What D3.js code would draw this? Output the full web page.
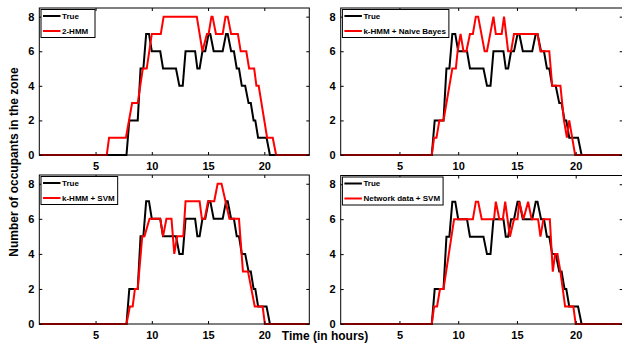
<!DOCTYPE html>
<html>
<head>
<meta charset="utf-8">
<script src="https://cdn.jsdelivr.net/npm/d3@7"></script>
<style>
  body { margin: 0; background: #fff; }
  svg { display: block; font-family: "Liberation Sans", Arial, Helvetica, sans-serif; }
  .tick-label { font-size: 11px; font-weight: bold; fill: #000; }
  .legend-text { font-size: 8px; font-weight: bold; fill: #000; }
  .axis-title { font-size: 12px; font-weight: bold; fill: #000; }
</style>
</head>
<body>
<svg width="622" height="347"></svg>
<script>
const trueTimes = [0, 7.75, 8.0, 8.75, 9.0, 9.25, 9.5, 9.75, 10.0, 10.75, 11.0, 12.15, 12.45, 12.75, 13.0, 13.85, 14.05, 14.25, 14.5, 14.75, 15.05, 15.2, 15.5, 16.3, 16.6, 16.75, 17.05, 17.3, 17.55, 17.75, 18.0, 18.3, 18.6, 18.8, 19.05, 19.2, 19.45, 20.2, 20.5, 24];
const trueValues = [0, 0, 2, 2, 5, 5, 7, 7, 6, 6, 5, 5, 4, 4, 6, 6, 5, 5, 6, 6, 7, 7, 6, 6, 7, 7, 6, 6, 5, 5, 4, 4, 3, 3, 2, 2, 1, 1, 0, 0];

// 2-HMM estimate
const hmmTimes = [0, 6.0, 6.2, 7.7, 8.25, 8.75, 9.2, 9.55, 10.0, 10.8, 11.05, 14.0, 14.5, 14.9, 15.05, 15.3, 15.4, 15.7, 16.3, 16.55, 16.75, 17.05, 17.65, 17.9, 18.4, 18.65, 19.1, 19.3, 19.5, 20.25, 20.75, 21.05, 24];
const hmmValues = [0, 0, 1, 1, 3, 3, 5, 5, 7, 7, 8, 8, 6, 7, 7, 8, 8, 7, 7, 8, 8, 7, 7, 6, 6, 5, 5, 4, 4, 1, 1, 0, 0];

// k-HMM + Naive Bayes estimate
const nbTimes = [0, 7.75, 7.95, 8.15, 8.4, 8.75, 9.5, 9.8, 9.95, 10.2, 10.45, 10.7, 11.0, 11.25, 11.5, 11.7, 12.25, 12.45, 13.0, 13.2, 13.7, 13.9, 14.25, 14.5, 14.75, 16.75, 17.0, 17.75, 18.0, 18.7, 19.0, 19.25, 19.45, 19.95, 24];
const nbValues = [0, 0, 1, 1, 2, 2, 5, 5, 6, 7, 6, 6, 7, 7, 8, 8, 6, 6, 8, 7, 7, 8, 6, 6, 7, 7, 6, 6, 4, 4, 2, 1, 2, 0, 0];

// k-HMM + SVM estimate
const svmTimes = [0, 7.75, 8.05, 8.3, 8.5, 8.75, 9.15, 9.35, 9.8, 10.75, 11.0, 11.3, 11.75, 12.0, 12.25, 12.8, 13.0, 14.25, 14.45, 14.7, 15.0, 15.55, 15.85, 16.2, 16.9, 17.75, 18.1, 18.55, 19.15, 19.85, 20.05, 24];
const svmValues = [0, 0, 1, 1, 2, 2, 5, 5, 6, 6, 5, 6, 6, 4, 5, 5, 7, 7, 6, 6, 7, 7, 8, 8, 6, 6, 3, 3, 1, 1, 0, 0];

// network data + SVM estimate
const netTimes = [0, 7.75, 7.95, 8.2, 8.45, 8.75, 9.65, 11.25, 11.5, 11.7, 12.0, 13.05, 13.2, 13.5, 13.8, 14.0, 14.4, 14.75, 15.05, 15.2, 15.55, 15.95, 16.25, 16.8, 17.0, 17.25, 17.8, 18.05, 18.25, 18.45, 18.7, 19.1, 19.8, 20.0, 24];
const netValues = [0, 0, 1, 1, 2, 2, 6, 6, 7, 7, 6, 6, 7, 6, 6, 7, 5, 6, 6, 7, 6, 7, 6, 6, 5, 6, 6, 3, 4, 4, 3, 1, 1, 0, 0];

const methodNames = ["2-HMM", "k-HMM + Naive Bayes", "k-HMM + SVM", "Network data + SVM"];
const xTicks = [5, 10, 15, 20];
const yTicks = [0, 2, 4, 6, 8];

const panels = [
  {name: methodNames[0], t: hmmTimes, v: hmmValues},
  {name: methodNames[1], t: nbTimes, v: nbValues},
  {name: methodNames[2], t: svmTimes, v: svmValues},
  {name: methodNames[3], t: netTimes, v: netValues}
];

// axes boxes in pixels (left, right, top, bottom)
const boxes = [
  {l: 39.3, r: 309.3, t: 8, b: 155},
  {l: 340.7, r: 622.7, t: 8, b: 155},
  {l: 39.3, r: 309.3, t: 175, b: 324},
  {l: 340.7, r: 622.7, t: 175.5, b: 324}
];

const svg = d3.select("svg");

function toPoints(times, values) {
  return times.map((t, i) => ({t: t, v: values[i]}));
}

function drawPanel(p, box) {
  const x = d3.scaleLinear().domain([0, 24]).range([box.l, box.r]);
  const y = d3.scaleLinear().domain([0, 8.5]).range([box.b, box.t]);
  const g = svg.append("g");

  const line = d3.line()
      .x(d => x(d.t))
      .y(d => y(d.v));

  // black = true, red = estimate on top
  g.append("path")
      .datum(toPoints(trueTimes, trueValues))
      .attr("d", line)
      .style("fill", "none")
      .style("stroke", "#000")
      .style("stroke-width", 2)
      .style("stroke-linejoin", "miter");

  g.append("path")
      .datum(toPoints(p.t, p.v))
      .attr("d", line)
      .style("fill", "none")
      .style("stroke", "#ff0000")
      .style("stroke-width", 2)
      .style("stroke-linejoin", "miter");

  // matlab style box with inward ticks on all sides
  const tk = 3;
  g.append("g")
      .attr("transform", "translate(0," + box.b + ")")
      .call(d3.axisBottom(x).tickValues(xTicks).tickSizeInner(-tk).tickSizeOuter(0).tickPadding(5))
      .call(a => a.select(".domain").remove())
      .call(a => a.selectAll("text").attr("class", "tick-label").attr("dy", "0.95em"));
  g.append("g")
      .attr("transform", "translate(0," + box.t + ")")
      .call(d3.axisTop(x).tickValues(xTicks).tickSizeInner(-tk).tickSizeOuter(0).tickFormat(""))
      .call(a => a.select(".domain").remove());
  g.append("g")
      .attr("transform", "translate(" + box.l + ",0)")
      .call(d3.axisLeft(y).tickValues(yTicks).tickSizeInner(-tk).tickSizeOuter(0).tickPadding(5))
      .call(a => a.select(".domain").remove())
      .call(a => a.selectAll("text").attr("class", "tick-label"));
  g.append("g")
      .attr("transform", "translate(" + box.r + ",0)")
      .call(d3.axisRight(y).tickValues(yTicks).tickSizeInner(-tk).tickSizeOuter(0).tickFormat(""))
      .call(a => a.select(".domain").remove());
  g.selectAll(".tick line").style("stroke", "#000");
  g.selectAll(".tick text").style("font-family", null).style("font-size", null);

  g.append("rect")
      .attr("x", box.l)
      .attr("y", box.t)
      .attr("width", box.r - box.l)
      .attr("height", box.b - box.t)
      .style("fill", "none")
      .style("stroke", "#000")
      .style("stroke-width", 1);

  // legend
  const lg = g.append("g")
      .attr("transform", "translate(" + (box.l + 1.7) + "," + (box.t + 1.5) + ")");
  const frame = lg.append("rect")
      .attr("height", 28)
      .style("fill", "#fff")
      .style("stroke", "#000")
      .style("stroke-width", 1);
  const entries = [{label: "True", color: "#000"}, {label: p.name, color: "#ff0000"}];
  let maxLen = 0;
  entries.forEach((e, i) => {
    const cy = 6.5 + i * 15;
    lg.append("line")
        .attr("x1", 2).attr("x2", 19.5)
        .attr("y1", cy).attr("y2", cy)
        .style("stroke", e.color)
        .style("stroke-width", 2);
    const txt = lg.append("text")
        .attr("class", "legend-text")
        .attr("x", 21)
        .attr("y", cy)
        .attr("dy", "0.35em")
        .text(e.label);
    maxLen = Math.max(maxLen, txt.node().getComputedTextLength());
  });
  frame.attr("width", Math.max(54, maxLen + 24));
}

panels.forEach((p, i) => drawPanel(p, boxes[i]));

// shared axis titles
svg.append("text")
    .attr("class", "axis-title")
    .attr("transform", "translate(18,162) rotate(-90)")
    .style("text-anchor", "middle")
    .text("Number of occupants in the zone");

svg.append("text")
    .attr("class", "axis-title")
    .attr("x", 325)
    .attr("y", 340)
    .style("text-anchor", "middle")
    .text("Time (in hours)");
</script>
</body>
</html>
